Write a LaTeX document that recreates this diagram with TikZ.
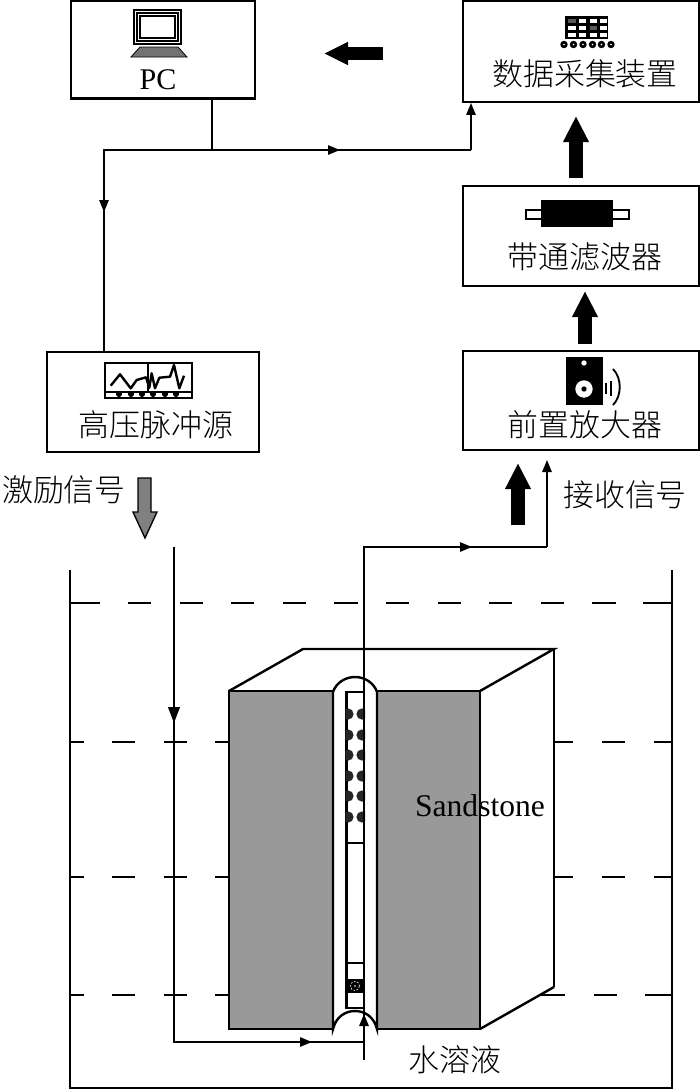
\documentclass[tikz,border=0pt]{standalone}
\usepackage{fontspec}
\setmainfont{Liberation Serif}
\newfontfamily\cjk[UprightFont=* Light]{Noto Sans CJK SC}
\usetikzlibrary{arrows.meta,calc}
\definecolor{rockgray}{HTML}{999999}
\definecolor{arrowgray}{HTML}{808080}
\tikzset{
  x=0.75pt,y=-0.75pt,
  devbox/.style={draw=black,line width=1.7pt,fill=white,inner sep=0pt},
  cn/.style={font=\cjk\fontsize{23.2pt}{25pt}\selectfont,inner sep=0pt,text=black},
  lat/.style={font=\fontsize{22.5pt}{25pt}\selectfont,inner sep=0pt},
  wire/.style={draw=black,line width=1.4pt},
  wirearrow/.style={draw=black,line width=1.4pt,-{Triangle[length=9pt,width=7pt]}},
  bigwirearrow/.style={draw=black,line width=1.4pt,-{Triangle[length=12pt,width=8.8pt]}},
  fat/.style={draw=black,line width=10.5pt,-{Triangle[length=19.5pt,width=18pt]}},
  fatleft/.style={draw=black,line width=9.75pt,-{Triangle[length=18pt,width=16pt]}},
  tankline/.style={draw=black,line width=2.1pt},
  levelsolid/.style={draw=black,line width=2.2pt},
  level/.style={draw=black,line width=2.2pt,dash pattern=on 17.4pt off 21.3pt},
  blockline/.style={draw=black,line width=1.8pt},
  thinblock/.style={draw=black,line width=1.5pt},
}
\begin{document}
\begin{tikzpicture}
\useasboundingbox (0,0) rectangle (700,1090);
% tank
\draw[tankline] (70,570) -- (70,1088) -- (672,1088) -- (672,570);
\draw[levelsolid] (71,603) -- (100,603);
\draw[level] (128,603) -- (640,603);
\draw[levelsolid] (643,603) -- (672,603);
\foreach \yy in {742,877,995} {
  \draw[levelsolid] (71,\yy) -- (84,\yy);
  \draw[level] (112,\yy) -- (229,\yy);
}
\foreach \yy in {742,877} {
  \draw[levelsolid] (554,\yy) -- (573,\yy);
  \draw[level] (602,\yy) -- (672,\yy);
}
\draw[levelsolid] (537,995) -- (565,995);
\draw[levelsolid] (593.5,995) -- (617,995);
\draw[levelsolid] (645,995) -- (672,995);
% block
\fill[white] (229,691) -- (303,649) -- (554,649) -- (554,987) -- (480,1029) -- (229,1029) -- cycle;
\draw[blockline] (229,691) -- (303,649) -- (554,649) -- (480,691);
\draw[thinblock] (554,649) -- (554,987);
\draw[blockline] (554,987) -- (480,1029);
\filldraw[fill=rockgray,blockline] (229,691) rectangle (333,1029);
\filldraw[fill=rockgray,blockline] (377,691) rectangle (480,1029);
% groove
\filldraw[fill=white,blockline] (333,1029) -- (333,692) .. controls (336,683) and (345,677) .. (355,677) .. controls (365,677) and (374,683) .. (377,692) -- (377,1029) .. controls (374,1017) and (365,1011) .. (355,1011) .. controls (345,1011) and (336,1017) .. (333,1029) -- cycle;
% tube
\draw[blockline,fill=white] (346.5,692) rectangle (364,1008);
\draw[blockline] (346.5,843) -- (364,843);
\draw[blockline] (346.5,963) -- (364,963);
\begin{scope}
\clip (345.5,700) rectangle (365,830);
\foreach \yy in {714,735,755,776,796,817} {
  \fill[black!85] (348,\yy) circle[radius=4.2pt];
  \fill[black!85] (362,\yy) circle[radius=4.2pt];
}
\end{scope}
\fill[black] (345.5,979) rectangle (365,992.5);
\draw[white,line width=0.45pt,dash pattern=on 1.2pt off 1.2pt] (355,986) circle[radius=3.4pt];
\fill[white] (355,986) circle[radius=0.7pt];
% devices
\node[devbox,minimum width=138pt,minimum height=73.5pt] (pc) at (163,49.5) {};
\node[devbox,minimum width=177pt,minimum height=75.5pt] (daq) at (581,51.5) {};
\node[devbox,minimum width=177pt,minimum height=75pt] (filter) at (581,236) {};
\node[devbox,minimum width=177pt,minimum height=74.5pt] (amp) at (581,400.5) {};
\node[devbox,minimum width=159pt,minimum height=75pt] (pulse) at (153,402) {};
\node[lat] (pctext) at (158,80) {PC};
\node[cn] (daqtext) at (585,74) {数据采集装置};
\node[cn] (filtertext) at (585,257) {带通滤波器};
\node[cn] (amptext) at (585,425) {前置放大器};
\node[cn] (pulsetext) at (156,425) {高压脉冲源};
\node[cn] (extext) at (64,490) {激励信号};
\node[cn] (rxtext) at (625,495) {接收信号};
\node[cn] (watertext) at (455,1060) {水溶液};
\node[lat,font=\fontsize{23.7pt}{25pt}\selectfont] (rocktext) at (480,806) {Sandstone};
% PC icon
\draw[black,line width=1pt,fill=white] (134,10) rectangle (181,44);
\draw[black,line width=1pt] (137,13) rectangle (178,41);
\draw[black,line width=1.4pt] (140,16) rectangle (175,38);
\filldraw[fill=black!55,draw=black,line width=0.6pt] (131,57) -- (187,57) -- (178,47) -- (140,47) -- cycle;
% DAQ icon
\fill[black] (565,16) rectangle (608,39);
\foreach \cx in {568.3,578.5,589.5,599.5} \foreach \cy in {18.5,26,33} {
  \fill[white] (\cx,\cy) rectangle ++(7.5,4);
}
\fill[black!65] (568.3,18.5) rectangle ++(7.5,4);
\fill[black!65] (589.5,26) rectangle ++(7.5,4);
\foreach \cx in {564,573.5,583,592.5,601.5,611} {
  \fill[black] (\cx,44.5) circle[radius=2.8pt];
  \fill[white] (\cx,44.5) circle[radius=0.7pt];
}
% filter icon
\draw[black,line width=1pt,fill=white] (526,210) rectangle (629,219);
\fill[black] (541,200) rectangle (613,227);
% amp icon
\fill[black] (566,357) rectangle (603,405);
\fill[white] (584,363) circle[radius=2pt];
\fill[white] (584,389) circle[radius=6.5pt];
\fill[black] (584,389) circle[radius=2pt];
\draw[black,line width=1.3pt] (606,383) -- (606,394);
\draw[black,line width=1.3pt] (611,381) -- (611,396);
\draw[black,line width=1.4pt] (613,369) .. controls (622,378) and (622,396) .. (613,405);
% pulse icon
\draw[black,line width=1.4pt] (105,363) rectangle (192,398);
\draw[black,line width=1pt] (105,392) -- (192,392);
\draw[black,line width=0.9pt] (148,363) -- (148,392);
\draw[black,line width=1.8pt,line join=round] (110.7,385.7) -- (120,374.3) -- (130.7,388.3) -- (136.7,380) -- (146,377.3) -- (149.3,387.7) -- (151.7,373.3) -- (155,388.3) -- (159.3,377.7) -- (170,376.7) -- (174,365) -- (179.3,388.3) -- (184,375.7);
\foreach \cx in {119,131,142,153,165,176} \fill[black] (\cx,394) circle[radius=2.3pt];
% signal wires
\coordinate (tee) at (212,150);
\coordinate (corner) at (104,150);
\coordinate (daqin) at (471,150);
\coordinate (midright) at (340,150);
\coordinate (middown) at (104,212);
\draw[wire] (tee |- pc.south) -- (tee);
\draw[wire] (corner |- pulse.north) -- (corner) -- (daqin);
\draw[wirearrow] (tee) -- (midright);
\draw[wirearrow] (corner) -- (middown);
\draw[wirearrow] (daqin) -- (daqin |- daq.south);
% excitation wire
\coordinate (exstart) at (174,547);
\coordinate (exdown) at (174,723);
\coordinate (excorner) at (174,1042);
\coordinate (exright) at (312,1042);
\coordinate (exend) at (364,1042);
\draw[wire] (exstart) -- (excorner) -- (exend);
\draw[bigwirearrow] (exstart) -- (exdown);
\draw[wirearrow] (excorner) -- (exright);
% receive wire
\coordinate (rxstart) at (364,1060);
\coordinate (rxup) at (364,1014);
\coordinate (rxcorner) at (364,547);
\coordinate (rxright) at (472,547);
\coordinate (rxbend) at (547,547);
\coordinate (rxend) at (547,460);
\draw[wire] (rxstart) -- (rxcorner) -- (rxbend);
\draw[wirearrow] (rxstart) -- (rxup);
\draw[wirearrow] (rxcorner) -- (rxright);
\draw[wirearrow] (rxbend) -- (rxend);
% fat arrows
\draw[fatleft] (383,53.5) -- (324,53.5);
\draw[fat] (576,178) -- (576,116);
\draw[fat] (585,344) -- (585,291);
\draw[fat] (518,525) -- (518,463);
\filldraw[fill=arrowgray,draw=black,line width=1pt,line join=miter] (138,478) -- (151,478) -- (151,512) -- (157,512) -- (145,538) -- (133,512) -- (138,512) -- cycle;
\end{tikzpicture}
\end{document}
